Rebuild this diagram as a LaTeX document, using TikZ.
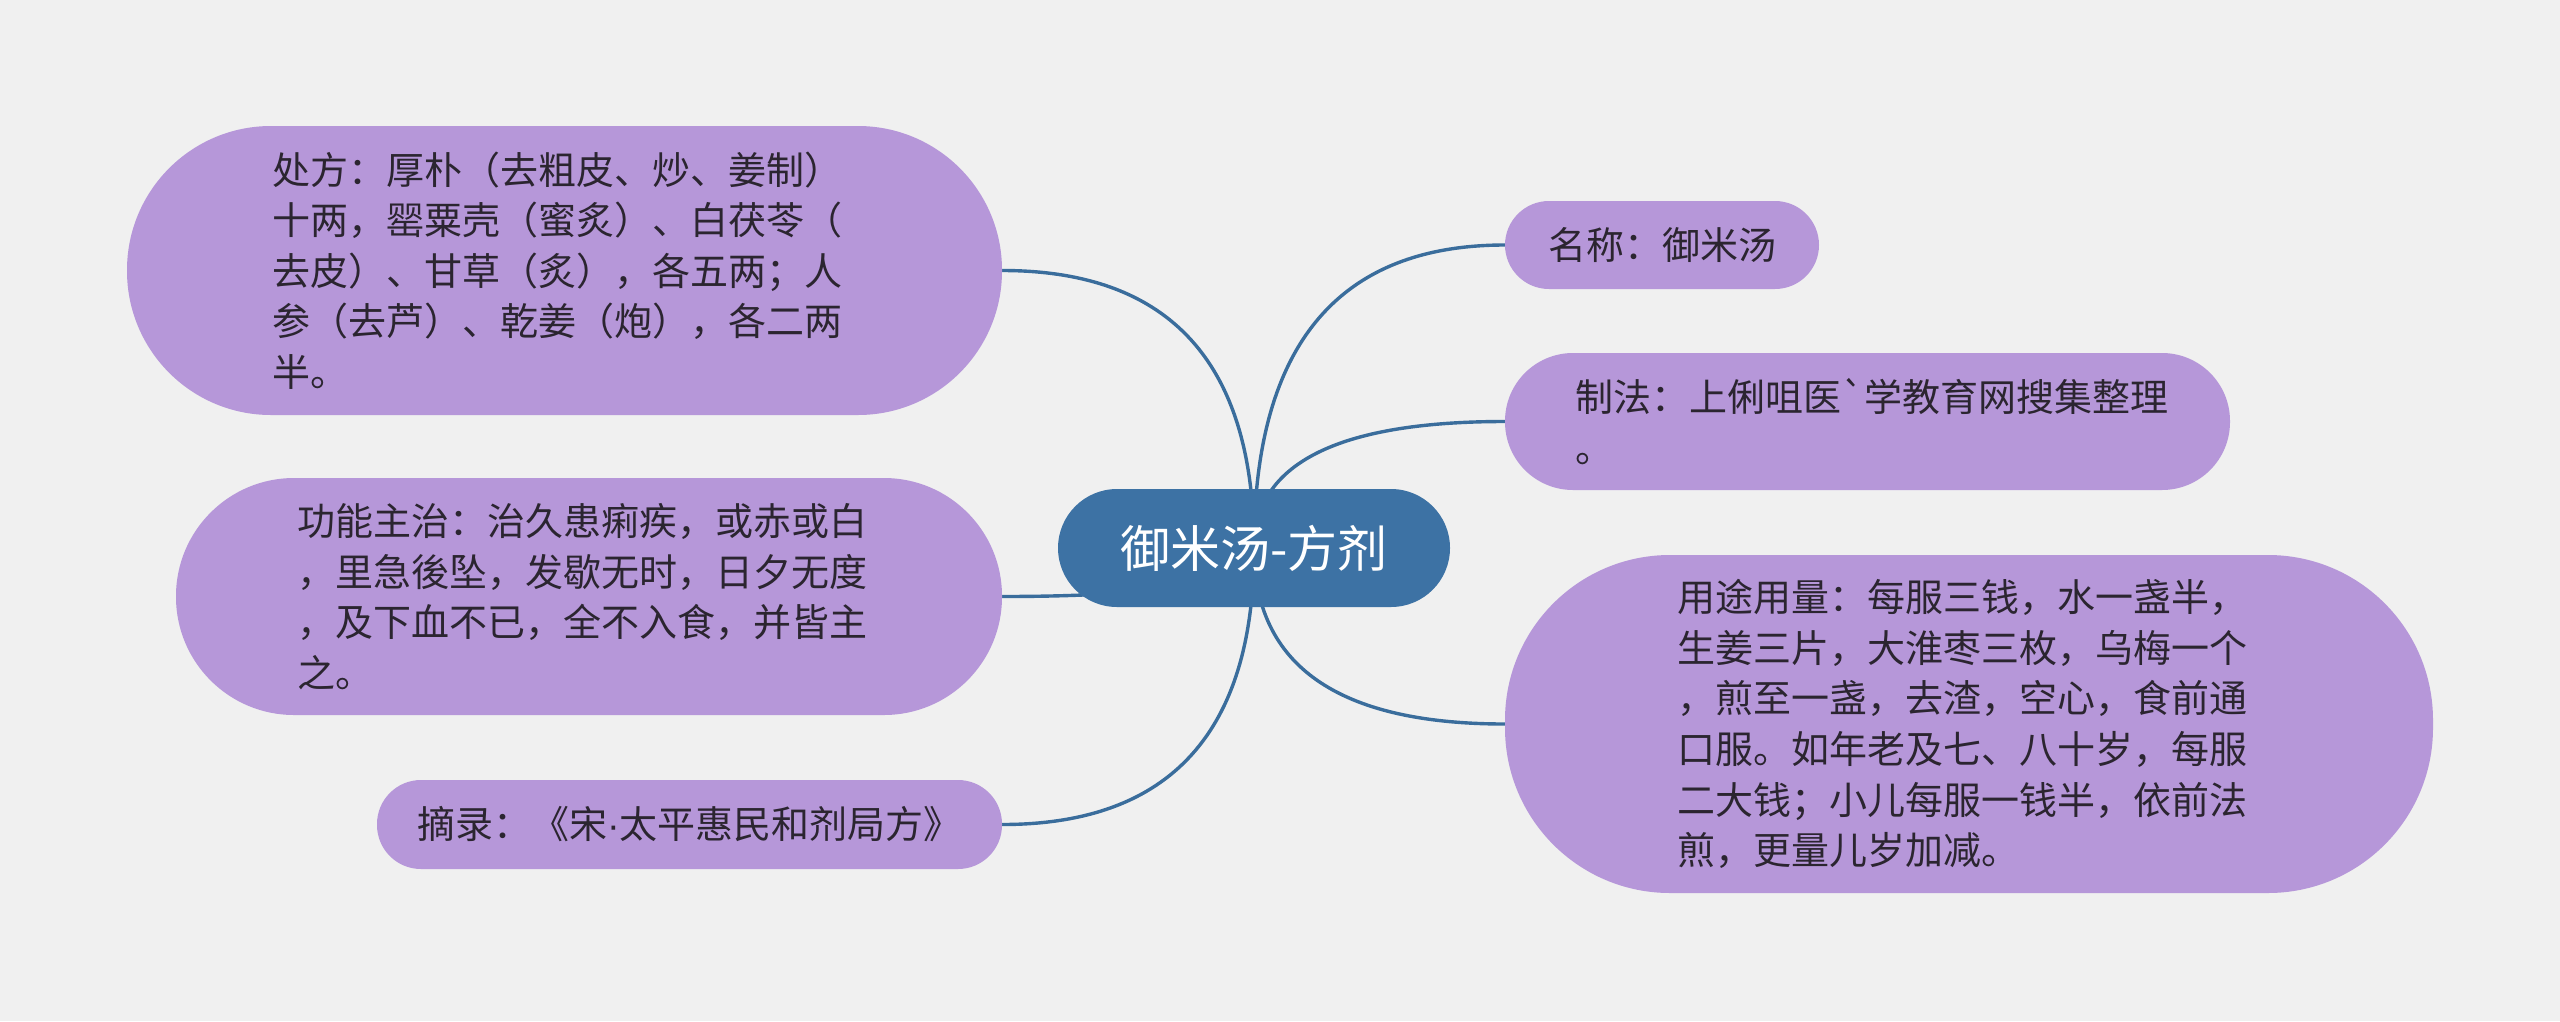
\documentclass[tikz,border=0pt]{standalone}
\usepackage{fontspec}
\newfontfamily\cjk{Noto Sans CJK SC}
\newfontfamily\latinfont{Liberation Sans}
\usetikzlibrary{calc}
\definecolor{bgcol}{HTML}{F0F0F0}
\definecolor{mainblue}{HTML}{3D72A4}
\definecolor{leafpurple}{HTML}{B697D9}
\definecolor{txtcol}{HTML}{2B2530}
\definecolor{linkblue}{HTML}{3A6D9C}
\pgfdeclarelayer{back}
\pgfdeclarelayer{edges}
\pgfsetlayers{back,edges,main}
\begin{document}
\begin{tikzpicture}[x=1pt,y=-1pt,
  leaf/.style={draw=none, fill=leafpurple, text=txtcol,
    font=\cjk\fontsize{38}{50.6}\selectfont, inner sep=0pt},
  leafblock/.style={leaf, text width=584pt, align=left},
  root/.style={fill=mainblue, text=white, font=\cjk\fontsize{50}{58}\selectfont,
    inner sep=0pt, rounded corners=59pt, minimum width=392pt, minimum height=118pt},
  link/.style={draw=linkblue, line width=3.4pt}]
\begin{pgfonlayer}{back}
\fill[bgcol] (0,0) rectangle (2560,1021);
\end{pgfonlayer}
\useasboundingbox (0,0) rectangle (2560,1021);

\node[root] (root) at (1254,548) {御米汤-方剂};

\node[leafblock, minimum width=875pt, minimum height=289pt, rounded corners=144pt] (chufang) at (564.5,270.5)
 {处方：厚朴（去粗皮、炒、姜制）\\十两，罂粟壳（蜜炙）、白茯苓（\\去皮）、甘草（炙），各五两；人\\参（去芦）、乾姜（炮），各二两\\半。};

\node[leafblock, minimum width=826pt, minimum height=237pt, rounded corners=118pt] (gongneng) at (589,596.5)
 {功能主治：治久患痢疾，或赤或白\\，里急後坠，发歇无时，日夕无度\\，及下血不已，全不入食，并皆主\\之。};

\node[leaf, minimum width=625pt, minimum height=89pt, rounded corners=44pt] (zhailu) at (689.5,824.5)
 {摘录：《宋{\latinfont ·}太平惠民和剂局方》};

\node[leaf, minimum width=314pt, minimum height=88pt, rounded corners=44pt] (mingcheng) at (1662,245)
 {名称：御米汤};

\node[leafblock, minimum width=725pt, minimum height=137pt, rounded corners=68pt] (zhifa) at (1867.5,421.5)
 {制法：上俐咀医`学教育网搜集整理\\。};

\node[leafblock, minimum width=928pt, minimum height=338pt, rounded corners=165pt] (yongtu) at (1969,724)
 {用途用量：每服三钱，水一盏半，\\生姜三片，大淮枣三枚，乌梅一个\\，煎至一盏，去渣，空心，食前通\\口服。如年老及七、八十岁，每服\\二大钱；小儿每服一钱半，依前法\\煎，更量儿岁加减。};

\begin{pgfonlayer}{edges}
\foreach \n/\a in {chufang/east, gongneng/east, zhailu/east, mingcheng/west, zhifa/west, yongtu/west}{
  \draw[link] (root.center)
    .. controls ($(root.center)!2/3!(root.center |- \n.\a)$)
    and ($(\n.\a)!2/3!(root.center |- \n.\a)$) .. (\n.\a);
}
\end{pgfonlayer}
\end{tikzpicture}
\end{document}
